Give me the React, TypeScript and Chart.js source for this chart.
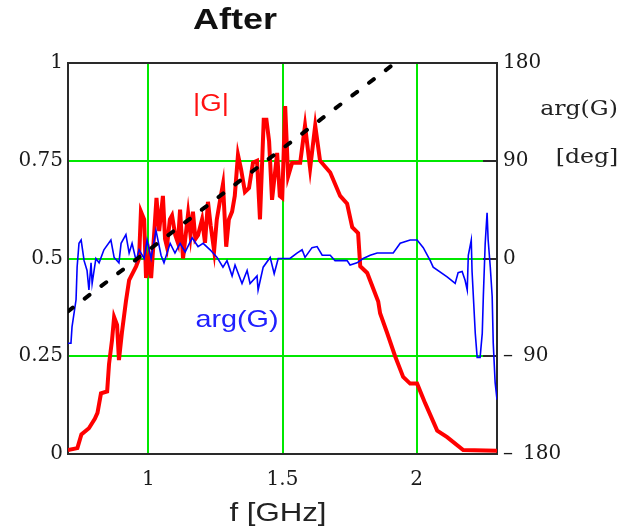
import React, { useEffect, useRef } from "react";
import { Chart, registerables } from "chart.js";

Chart.register(...registerables);

// |G| magnitude (left axis)
const magFreq = [0.700, 0.735, 0.750, 0.778, 0.800, 0.810, 0.823, 0.846, 0.853, 0.864, 0.872, 0.883, 0.890, 0.901, 0.916, 0.928, 0.954, 0.965, 0.972, 0.984, 0.991, 1.002, 1.010, 1.021, 1.030, 1.040, 1.054, 1.062, 1.069, 1.080, 1.088, 1.100, 1.110, 1.118, 1.129, 1.148, 1.157, 1.166, 1.175, 1.185, 1.200, 1.211, 1.222, 1.232, 1.245, 1.255, 1.270, 1.278, 1.290, 1.300, 1.312, 1.322, 1.334, 1.345, 1.360, 1.375, 1.390, 1.405, 1.416, 1.430, 1.440, 1.450, 1.461, 1.480, 1.490, 1.499, 1.510, 1.521, 1.536, 1.566, 1.584, 1.603, 1.622, 1.640, 1.678, 1.715, 1.741, 1.760, 1.782, 1.790, 1.816, 1.857, 1.864, 1.890, 1.920, 1.950, 1.976, 2.002, 2.032, 2.077, 2.114, 2.174, 2.300];
const magValue = [0.010, 0.015, 0.050, 0.066, 0.090, 0.105, 0.155, 0.160, 0.230, 0.290, 0.350, 0.330, 0.240, 0.310, 0.390, 0.445, 0.480, 0.500, 0.620, 0.600, 0.450, 0.500, 0.450, 0.560, 0.655, 0.570, 0.660, 0.550, 0.530, 0.600, 0.610, 0.560, 0.540, 0.625, 0.500, 0.615, 0.560, 0.620, 0.550, 0.560, 0.600, 0.540, 0.645, 0.585, 0.520, 0.600, 0.660, 0.690, 0.530, 0.600, 0.620, 0.660, 0.765, 0.730, 0.670, 0.680, 0.745, 0.750, 0.600, 0.855, 0.855, 0.800, 0.650, 0.770, 0.660, 0.655, 0.890, 0.710, 0.745, 0.745, 0.840, 0.730, 0.840, 0.750, 0.720, 0.660, 0.640, 0.580, 0.565, 0.480, 0.463, 0.390, 0.360, 0.310, 0.250, 0.197, 0.180, 0.180, 0.130, 0.060, 0.043, 0.010, 0.008];

// arg(G) in degrees (right axis)
const phaseFreq = [0.700, 0.711, 0.715, 0.730, 0.734, 0.741, 0.749, 0.760, 0.771, 0.778, 0.786, 0.790, 0.804, 0.816, 0.834, 0.860, 0.872, 0.890, 0.898, 0.916, 0.928, 0.939, 0.954, 0.965, 0.984, 0.995, 1.010, 1.028, 1.047, 1.058, 1.081, 1.099, 1.118, 1.137, 1.163, 1.185, 1.204, 1.230, 1.256, 1.278, 1.293, 1.312, 1.323, 1.349, 1.368, 1.379, 1.405, 1.409, 1.428, 1.454, 1.469, 1.484, 1.528, 1.554, 1.573, 1.584, 1.610, 1.629, 1.648, 1.678, 1.696, 1.741, 1.752, 1.778, 1.801, 1.827, 1.853, 1.913, 1.939, 1.976, 2.002, 2.025, 2.051, 2.062, 2.114, 2.144, 2.155, 2.170, 2.181, 2.189, 2.193, 2.204, 2.207, 2.219, 2.226, 2.237, 2.245, 2.249, 2.256, 2.263, 2.267, 2.275, 2.282, 2.286, 2.293, 2.300];
const phaseDeg = [-78, -78, -63, -38, -8, 14, 17, -2, -11, -29, -4, -23, 0, -4, 8, 17, 1, -4, 14, 22, 5, 14, -2, 8, 0, 17, 0, 26, 3, -4, 14, 5, 14, 6, 19, 11, 14, 8, 1, -8, -2, -16, -6, -23, -11, -23, -16, -29, -8, 1, -14, 0, 0, 5, 8, 1, 10, 11, 3, 3, -2, -2, -6, -4, 0, 3, 5, 5, 14, 17, 17, 10, -2, -8, -17, -23, -13, -12, -20, -29, 3, 17, -12, -69, -91, -91, -69, -35, 14, 42, 17, -8, -35, -78, -114, -130];

// dashed reference line (left axis units)
const refFreq = [0.7, 1.92];
const refValue = [0.365, 1.0];

// tick values
const xTicks = [1, 1.5, 2];
const leftTicks = [0, 0.25, 0.5, 0.75, 1];
const rightTicks = [-180, -90, 0, 90, 180];

const GREEN = "#00e800";
const FRAME = "#2a2a2a";

const zip = (xs: number[], ys: number[]) => xs.map((x, i) => ({ x, y: ys[i] }));

const overlayPlugin = {
  id: "overlay",
  beforeDatasetsDraw(chart: any) {
    const { ctx, chartArea: a } = chart;
    const y2 = chart.scales.y2;
    ctx.save();
    ctx.strokeStyle = FRAME;
    ctx.lineWidth = 2;
    ctx.strokeRect(a.left, a.top, a.right - a.left, a.bottom - a.top);
    ctx.lineWidth = 2;
    [90, 0, -90].forEach((v) => {
      const py = Math.round(y2.getPixelForValue(v));
      ctx.beginPath();
      ctx.moveTo(a.right - 14, py);
      ctx.lineTo(a.right, py);
      ctx.stroke();
    });
    ctx.restore();
  },
  afterDraw(chart: any) {
    const { ctx } = chart;
    const text = (s: string, x: number, y: number, font: string, color: string, sx: number) => {
      ctx.save();
      ctx.translate(x, y);
      ctx.scale(sx, 1);
      ctx.font = font;
      ctx.fillStyle = color;
      ctx.textAlign = "center";
      ctx.textBaseline = "middle";
      ctx.fillText(s, 0, 0);
      ctx.restore();
    };
    text("After", 235, 21, "bold 30px 'Liberation Sans', Arial, sans-serif", "#111", 1.2);
    text("f [GHz]", 278, 514, "26px 'Liberation Sans', Arial, sans-serif", "#222", 1.2);
    text("|G|", 211, 105, "23px 'Liberation Sans', Arial, sans-serif", "#ff1010", 1.2);
    text("arg(G)", 237, 320, "24px 'Liberation Sans', Arial, sans-serif", "#2020ff", 1.2);
    text("arg(G)", 579, 110, "20px 'DejaVu Serif', serif", "#222", 1.18);
    text("[deg]", 587, 158, "20px 'DejaVu Serif', serif", "#222", 1.18);
  },
};

export default function App() {
  const ref = useRef<HTMLCanvasElement | null>(null);

  useEffect(() => {
    if (!ref.current) return;
    const tickFont = { family: "'DejaVu Serif', serif", size: 20 };
    const chart = new Chart(ref.current, {
      type: "line",
      data: {
        datasets: [
          {
            label: "ref",
            data: zip(refFreq, refValue),
            yAxisID: "y",
            borderColor: "#000",
            borderWidth: 4,
            borderDash: [6, 15],
            borderCapStyle: "round",
            pointRadius: 0,
            order: 0,
          },
          {
            label: "arg(G)",
            data: zip(phaseFreq, phaseDeg),
            yAxisID: "y2",
            borderColor: "#0000ff",
            borderWidth: 1.6,
            pointRadius: 0,
            order: 1,
          },
          {
            label: "|G|",
            data: zip(magFreq, magValue),
            yAxisID: "y",
            borderColor: "#ff0000",
            borderWidth: 4,
            pointRadius: 0,
            order: 2,
          },
        ],
      },
      options: {
        responsive: false,
        animation: false,
        layout: { padding: { top: 63, left: 0, right: 0, bottom: 0 } },
        plugins: { legend: { display: false }, title: { display: false }, tooltip: { enabled: false } },
        scales: {
          x: {
            type: "linear",
            min: 0.7,
            max: 2.3,
            afterBuildTicks: (s: any) => {
              s.ticks = xTicks.map((v) => ({ value: v }));
            },
            afterFit: (s: any) => {
              s.height = 75;
            },
            grid: { color: GREEN, lineWidth: 2, drawTicks: false },
            border: { display: false },
            ticks: {
              font: tickFont,
              color: "#1a1a1a",
              padding: 14,
              maxRotation: 0,
              callback: (v: any) => String(v),
            },
          },
          y: {
            type: "linear",
            position: "left",
            min: 0,
            max: 1,
            afterBuildTicks: (s: any) => {
              s.ticks = leftTicks.map((v) => ({ value: v }));
            },
            afterFit: (s: any) => {
              s.width = 68;
            },
            grid: {
              color: (c: any) => (c.tick && (c.tick.value === 0 || c.tick.value === 1) ? "rgba(0,0,0,0)" : GREEN),
              lineWidth: 2,
              drawTicks: false,
            },
            border: { display: false },
            ticks: {
              font: tickFont,
              color: "#1a1a1a",
              padding: 5,
              callback: (v: any) => String(v),
            },
          },
          y2: {
            type: "linear",
            position: "right",
            min: -180,
            max: 180,
            afterBuildTicks: (s: any) => {
              s.ticks = rightTicks.map((v) => ({ value: v }));
            },
            afterFit: (s: any) => {
              s.width = 125;
            },
            grid: { display: false, drawTicks: false },
            border: { display: false },
            ticks: {
              font: tickFont,
              color: "#1a1a1a",
              padding: 6,
              callback: (v: any) => (Number(v) < 0 ? "\u2013\u2002" + Math.abs(Number(v)) : String(v)),
            },
          },
        },
      },
      plugins: [overlayPlugin],
    } as any);
    return () => chart.destroy();
  }, []);

  return (
    <div style={{ position: "absolute", left: 0, top: 0, width: 622, height: 529, background: "#fff" }}>
      <canvas ref={ref} width={622} height={529} style={{ width: 622, height: 529, display: "block" }} />
    </div>
  );
}
